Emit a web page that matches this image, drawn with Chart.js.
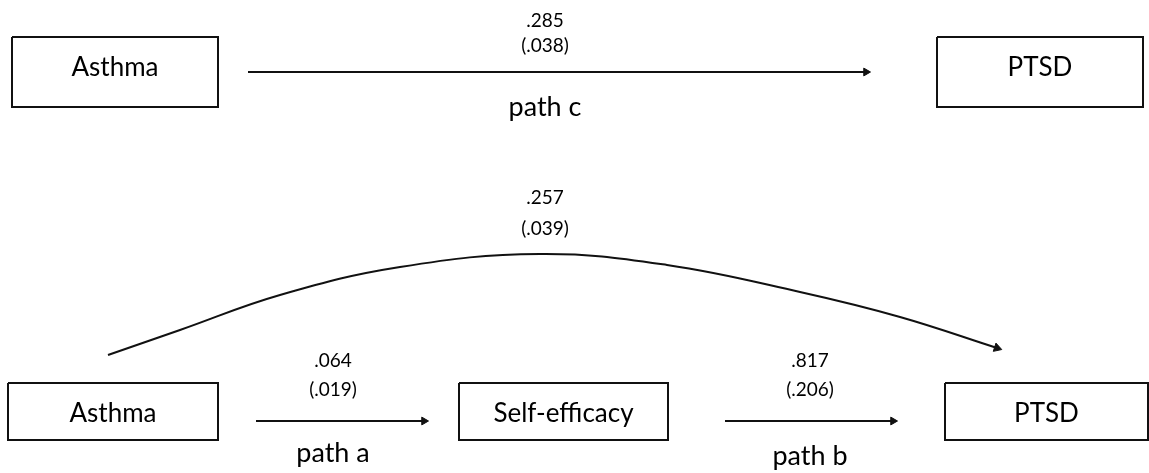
<!DOCTYPE html>
<html>
<head>
<meta charset="utf-8">
<script src="https://cdn.jsdelivr.net/npm/chart.js@4.4.1/dist/chart.umd.min.js"></script>
<style>
    html, body { margin: 0; padding: 0; background: #fff; }
    #wrap { width: 1149px; height: 473px; }
</style>
</head>
<body>
<div id="wrap"><canvas id="diagram" width="1149" height="473"></canvas></div>
<script>
// ── Datos del diagrama de mediación ──────────────────────────────
// Coordenadas en unidades del diagrama (el eje x va de 0 a 1149, el y de 0 a 473)

const nodeLabels = ['Asthma', 'PTSD', 'Asthma', 'Self-efficacy', 'PTSD'];
const nodeLeft   = [12, 937, 8, 459, 945];
const nodeRight  = [218, 1143, 218, 668, 1148];
const nodeTop    = [37, 37, 383, 383, 383];
const nodeBottom = [107, 107, 440, 440, 440];

const pathNames  = ['path c', 'path a', 'path b'];
const pathCoef   = ['.285', '.064', '.817'];
const pathSE     = ['(.038)', '(.019)', '(.206)'];
const pathStartX = [248, 256, 725];
const pathEndX   = [866, 424, 893];
const pathY      = [72, 421, 421];
const pathLabelX = [545, 333, 810];
const coefY      = [21, 361, 361];
const seY        = [46, 390, 390];
const nameY      = [107, 453, 456];

// Efecto directo (c') dibujado como curva
const directCoef = '.257';
const directSE   = '(.039)';
const directLabelX = 545;
const directCoefY  = 198;
const directSEY    = 229;
const curveX = [108, 180, 280, 400, 540, 667, 800, 900, 997];
const curveY = [355, 330, 295, 267, 254, 265, 292, 317, 348];

// ── Construcción de datasets ─────────────────────────────────────

const INK = '#111111';
const datasets = [];

// Cajas: polígonos cerrados
nodeLabels.forEach((_, i) => {
    datasets.push({
        data: [
            { x: nodeLeft[i], y: nodeTop[i] },
            { x: nodeRight[i], y: nodeTop[i] },
            { x: nodeRight[i], y: nodeBottom[i] },
            { x: nodeLeft[i], y: nodeBottom[i] },
            { x: nodeLeft[i], y: nodeTop[i] }
        ],
        showLine: true,
        clip: false,
        borderColor: INK,
        borderWidth: 2,
        borderJoinStyle: 'miter',
        pointRadius: 0,
        tension: 0
    });
});

// Flechas rectas, punta = triángulo rotado
pathNames.forEach((_, i) => {
    datasets.push({
        data: [
            { x: pathStartX[i], y: pathY[i] },
            { x: pathEndX[i], y: pathY[i] }
        ],
        showLine: true,
        clip: false,
        borderColor: INK,
        borderWidth: 2,
        tension: 0,
        pointStyle: 'triangle',
        pointRadius: [0, 4.5],
        pointRotation: [0, 90],
        pointBackgroundColor: INK,
        pointBorderColor: INK,
        pointBorderWidth: 1
    });
});

// Curva del efecto directo
const n = curveX.length;
datasets.push({
    data: curveX.map((x, i) => ({ x: x, y: curveY[i] })),
    showLine: true,
    clip: false,
    borderColor: INK,
    borderWidth: 2,
    tension: 0.4,
    pointStyle: 'triangle',
    pointRadius: curveX.map((_, i) => (i === n - 1 ? 5 : 0)),
    pointRotation: curveX.map((_, i) => (i === n - 1 ? 108 : 0)),
    pointBackgroundColor: INK,
    pointBorderColor: INK,
    pointBorderWidth: 1
});

// ── Textos (nodos y coeficientes) ────────────────────────────────

const FONT = 'Lato, "Open Sans", sans-serif';

const textPlugin = {
    id: 'diagramText',
    afterDatasetsDraw(chart) {
        const { ctx, scales: { x, y } } = chart;
        const put = (txt, vx, vy, size) => {
            ctx.font = size + 'px ' + FONT;
            ctx.fillText(txt, x.getPixelForValue(vx), y.getPixelForValue(vy));
        };
        ctx.save();
        ctx.fillStyle = '#000';
        ctx.textAlign = 'center';
        ctx.textBaseline = 'middle';

        nodeLabels.forEach((lbl, i) => {
            put(lbl, (nodeLeft[i] + nodeRight[i]) / 2, nodeTop[i] + 31, 26);
        });
        pathNames.forEach((name, i) => {
            put(pathCoef[i], pathLabelX[i], coefY[i], 19);
            put(pathSE[i], pathLabelX[i], seY[i], 19);
            put(name, pathLabelX[i], nameY[i], 27);
        });
        put(directCoef, directLabelX, directCoefY, 19);
        put(directSE, directLabelX, directSEY, 19);
        ctx.restore();
    }
};

new Chart(document.getElementById('diagram').getContext('2d'), {
    type: 'scatter',
    data: { datasets: datasets },
    options: {
        responsive: false,
        animation: false,
        layout: { padding: 0, autoPadding: false },
        scales: {
            x: { type: 'linear', min: 0, max: 1149, display: false },
            y: { type: 'linear', min: 0, max: 473, reverse: true, display: false }
        },
        plugins: { legend: { display: false }, tooltip: { enabled: false } }
    },
    plugins: [textPlugin]
});
</script>
</body>
</html>
